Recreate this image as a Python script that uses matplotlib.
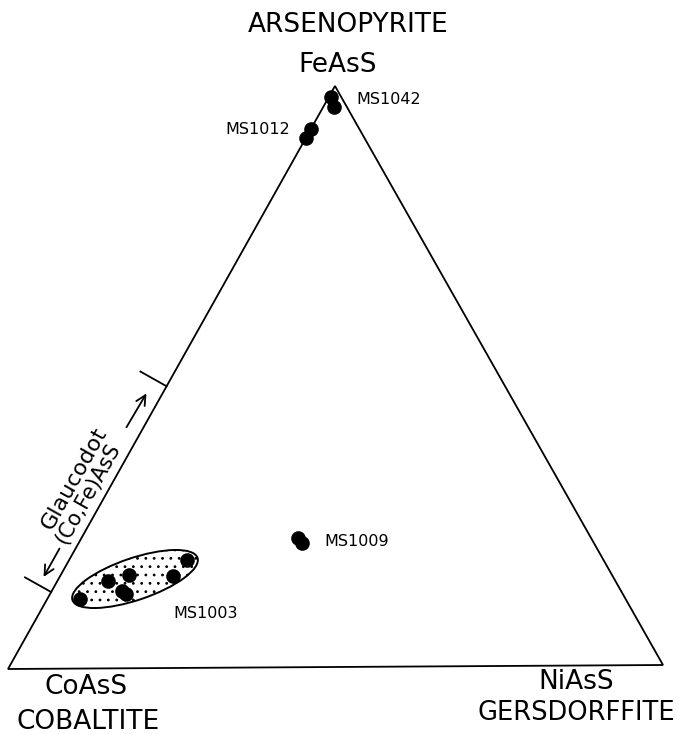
import numpy as np
import matplotlib.pyplot as plt
from matplotlib.patches import Ellipse, Polygon

# mole fractions (Co, Fe, Ni)
ms1042_co = [0.015, 0.020]
ms1042_fe = [0.981, 0.964]
ms1042_ni = [0.004, 0.016]

ms1012_co = [0.074, 0.090]
ms1012_fe = [0.926, 0.910]
ms1012_ni = [0.000, 0.000]

ms1009_co = [0.446, 0.445]
ms1009_fe = [0.222, 0.213]
ms1009_ni = [0.332, 0.342]

ms1003_co = [0.830, 0.772, 0.735, 0.759, 0.757, 0.669, 0.634]
ms1003_fe = [0.120, 0.151, 0.160, 0.133, 0.127, 0.158, 0.186]
ms1003_ni = [0.050, 0.077, 0.105, 0.108, 0.116, 0.173, 0.180]

# glaucodot range along the Co-Fe edge (Fe fraction)
glaucodot_range = [0.132, 0.485]

# triangle corners in figure pixels (Co, Fe, Ni)
V_CO = np.array([8.0, 669.0])
V_FE = np.array([335.0, 86.0])
V_NI = np.array([663.0, 665.0])


def tern(co, fe, ni):
    co, fe, ni = (np.asarray(v, dtype=float) for v in (co, fe, ni))
    tot = co + fe + ni
    pts = (np.outer(co / tot, V_CO) + np.outer(fe / tot, V_FE)
           + np.outer(ni / tot, V_NI))
    return pts[:, 0], pts[:, 1]


def edge_point(t, d):
    # point on Co-Fe edge at fraction t, pushed d pixels outward
    e = V_FE - V_CO
    n = np.array([e[1], -e[0]]) / np.hypot(*e)
    return V_CO + t * e + d * n


fig = plt.figure(figsize=(6.79, 7.34), dpi=100)
ax = fig.add_axes([0, 0, 1, 1])
ax.set_xlim(0, 679)
ax.set_ylim(734, 0)
ax.axis("off")

ax.add_patch(Polygon([V_CO, V_FE, V_NI], closed=True, fill=False,
                     edgecolor="black", lw=1.3, joinstyle="miter"))

# MS1003 field
plt.rcParams["hatch.linewidth"] = 0.8
ax.add_patch(Ellipse((135, 579), 132, 42, angle=-18.7, facecolor="white",
                     edgecolor="black", lw=1.4, hatch="..", zorder=2))

mk = dict(marker="o", ls="none", color="black", ms=9.5, zorder=3)
for co, fe, ni in [(ms1042_co, ms1042_fe, ms1042_ni),
                   (ms1012_co, ms1012_fe, ms1012_ni),
                   (ms1009_co, ms1009_fe, ms1009_ni),
                   (ms1003_co, ms1003_fe, ms1003_ni)]:
    x, y = tern(co, fe, ni)
    ax.plot(x, y, **mk)

lab = dict(fontsize=11.5, family="DejaVu Sans", ha="center", va="center")
ax.text(389, 99, "MS1042", **lab)
ax.text(258, 129, "MS1012", **lab)
ax.text(357, 541, "MS1009", **lab)
ax.text(206, 613, "MS1003", **lab)

big = dict(fontsize=19, family="DejaVu Sans", ha="center", va="center")
ax.text(348, 25, "ARSENOPYRITE", **big)
ax.text(338, 65, "FeAsS", **big)
ax.text(86, 687, "CoAsS", **big)
ax.text(88, 722, "COBALTITE", **big)
ax.text(576, 682, "NiAsS", **big)
ax.text(576, 713, "GERSDORFFITE", **dict(big, fontsize=18.5))

# glaucodot bracket
ang = np.degrees(np.arctan2(V_CO[1] - V_FE[1], V_FE[0] - V_CO[0]))
for t in glaucodot_range:
    p0, p1 = edge_point(t, 0), edge_point(t, 30)
    ax.plot([p0[0], p1[0]], [p0[1], p1[1]], color="black", lw=1.3)

arr = dict(arrowstyle="->,head_length=0.7,head_width=0.35", color="black", lw=1.3)
a0, a1 = edge_point(0.398, 15), edge_point(0.465, 14)
ax.annotate("", xy=a1, xytext=a0, arrowprops=arr)
a0, a1 = edge_point(0.199, 14), edge_point(0.142, 14)
ax.annotate("", xy=a1, xytext=a0, arrowprops=arr)

p = edge_point(0.297, 35)
ax.text(p[0], p[1], "Glaucodot", fontsize=16, rotation=ang,
        rotation_mode="anchor", ha="center", va="center")
p = edge_point(0.288, 16)
ax.text(p[0], p[1], "(Co,Fe)AsS", fontsize=15, rotation=ang,
        rotation_mode="anchor", ha="center", va="center")

fig.savefig("out.png", dpi=100)
